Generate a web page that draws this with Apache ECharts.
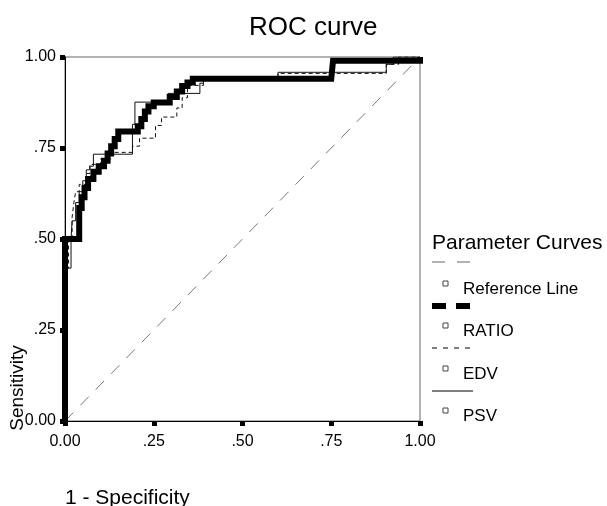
<!DOCTYPE html>
<html>
<head>
<meta charset="utf-8">
<script src="https://cdn.jsdelivr.net/npm/echarts@6/dist/echarts.min.js"></script>
<style>html,body{margin:0;padding:0;background:#fff;}#c{width:607px;height:506px;}</style>
</head>
<body>
<div id="c"></div>
<script>
var titleText = 'ROC curve';
var xAxisName = '1 - Specificity';
var yAxisName = 'Sensitivity';
var legendTitle = 'Parameter Curves';
var seriesNames = ['Reference Line', 'RATIO', 'EDV', 'PSV'];
var xTickLabels = ['0.00', '.25', '.50', '.75', '1.00'];
var yTickLabels = ['0.00', '.25', '.50', '.75', '1.00'];

var referencePoints = [[0, 0], [1, 1]];

var ratioPoints = [
  [0,0],[0,0.5],[0.04,0.5],[0.04,0.585],[0.047,0.585],[0.047,0.615],[0.055,0.615],[0.055,0.64],
  [0.065,0.64],[0.065,0.665],[0.08,0.665],[0.08,0.685],[0.095,0.685],[0.095,0.7],[0.11,0.7],[0.11,0.715],
  [0.12,0.715],[0.12,0.735],[0.13,0.735],[0.13,0.755],[0.14,0.755],[0.14,0.775],[0.15,0.775],[0.15,0.795],
  [0.205,0.795],[0.205,0.81],[0.215,0.81],[0.215,0.83],[0.225,0.83],[0.225,0.85],[0.235,0.85],[0.235,0.865],
  [0.25,0.865],[0.25,0.875],[0.295,0.875],[0.295,0.89],[0.315,0.89],[0.315,0.905],[0.33,0.905],[0.33,0.92],
  [0.345,0.92],[0.345,0.93],[0.36,0.93],[0.36,0.94],[0.75,0.94],[0.755,0.99],[1,0.99],[1,1]
];

var edvPoints = [
  [0,0],[0,0.42],[0.01,0.42],[0.01,0.5],[0.02,0.5],[0.02,0.56],[0.025,0.56],[0.025,0.6],[0.03,0.6],
  [0.03,0.63],[0.04,0.63],[0.04,0.65],[0.06,0.65],[0.06,0.68],[0.07,0.68],[0.07,0.705],[0.1,0.705],
  [0.1,0.72],[0.13,0.72],[0.13,0.738],[0.19,0.738],[0.19,0.755],[0.21,0.755],[0.21,0.777],[0.255,0.777],
  [0.255,0.812],[0.272,0.812],[0.272,0.835],[0.315,0.835],[0.315,0.86],[0.33,0.86],[0.33,0.888],
  [0.345,0.888],[0.345,0.922],[0.39,0.922],[0.39,0.94],[0.6,0.94],[0.6,0.955],[0.905,0.955],[0.905,0.98],
  [0.94,0.98],[0.94,1],[1,1]
];

var psvPoints = [
  [0,0],[0,0.42],[0.017,0.42],[0.017,0.5],[0.02,0.5],[0.02,0.55],[0.03,0.55],[0.03,0.6],[0.04,0.6],
  [0.04,0.63],[0.05,0.63],[0.05,0.66],[0.06,0.66],[0.06,0.69],[0.07,0.69],[0.07,0.7],[0.08,0.7],
  [0.08,0.733],[0.19,0.733],[0.19,0.815],[0.197,0.815],[0.197,0.876],[0.29,0.876],[0.29,0.9],[0.38,0.9],
  [0.38,0.928],[0.39,0.928],[0.39,0.94],[0.6,0.94],[0.6,0.958],[0.905,0.958],[0.905,0.98],[0.925,0.98],
  [0.925,1],[1,1]
];

var FONT = 'Arial, "Liberation Sans", sans-serif';
var chart = echarts.init(document.getElementById('c'), null, {renderer: 'canvas'});

function legendItem(i, sampleY, textY, sampleStyle) {
  return [
    {type: 'line', shape: {x1: 432, y1: sampleY, x2: 473, y2: sampleY}, style: sampleStyle},
    {type: 'rect', shape: {x: 443, y: textY - 8, width: 5, height: 5}, style: {fill: '#fff', stroke: '#444', lineWidth: 1}},
    {type: 'text', x: 463, y: textY, style: {text: seriesNames[i], font: '17px ' + FONT, fill: '#000', verticalAlign: 'middle'}}
  ];
}

var graphics = [].concat(
  [{type: 'text', x: 432, y: 243, style: {text: legendTitle, font: '21px ' + FONT, fill: '#000', verticalAlign: 'middle'}}],
  legendItem(0, 262, 289, {stroke: '#666', lineWidth: 1, lineDash: [13, 12]}),
  legendItem(1, 306, 331, {stroke: '#000', lineWidth: 6, lineDash: [14, 10]}),
  legendItem(2, 348, 374, {stroke: '#000', lineWidth: 1, lineDash: [5, 6]}),
  legendItem(3, 391, 416, {stroke: '#000', lineWidth: 1}),
  [
    {type: 'text', x: 65, y: 498, style: {text: xAxisName, font: '21px ' + FONT, fill: '#000', verticalAlign: 'middle'}},
    {type: 'text', x: 18, y: 388, rotation: Math.PI / 2, style: {text: yAxisName, font: '19px ' + FONT, fill: '#000', align: 'center', verticalAlign: 'middle'}}
  ]
);

var option = {
  backgroundColor: '#fff',
  animation: false,
  title: {text: titleText, left: 249, top: 15, padding: 0,
          textStyle: {fontFamily: FONT, fontSize: 26, fontWeight: 'normal', color: '#000'}},
  grid: {left: 65, right: 187, top: 57, bottom: 85, show: true, borderColor: '#666', borderWidth: 1, backgroundColor: 'transparent'},
  xAxis: {
    type: 'value', min: 0, max: 1, interval: 0.25,
    axisLine: {show: true, lineStyle: {color: '#000', width: 1}},
    axisTick: {show: true, length: 5, lineStyle: {color: '#000', width: 5}},
    splitLine: {show: false},
    axisLabel: {margin: 13, fontFamily: FONT, fontSize: 16, color: '#000',
                formatter: function (v) { return xTickLabels[Math.round(v * 4)]; }}
  },
  yAxis: {
    type: 'value', min: 0, max: 1, interval: 0.25,
    axisLine: {show: true, lineStyle: {color: '#000', width: 1}},
    axisTick: {show: true, length: 5, lineStyle: {color: '#000', width: 5}},
    splitLine: {show: false},
    axisLabel: {margin: 9, fontFamily: FONT, fontSize: 16, color: '#000',
                formatter: function (v) { return yTickLabels[Math.round(v * 4)]; }}
  },
  series: [
    {name: seriesNames[0], type: 'line', data: referencePoints, showSymbol: false, silent: true,
     lineStyle: {color: '#777', width: 1, type: [12, 10]}},
    {name: seriesNames[3], type: 'line', data: psvPoints, showSymbol: false, silent: true,
     lineStyle: {color: '#111', width: 1}},
    {name: seriesNames[2], type: 'line', data: edvPoints, showSymbol: false, silent: true,
     lineStyle: {color: '#111', width: 1, type: [4, 3]}},
    {name: seriesNames[1], type: 'line', data: ratioPoints, showSymbol: false, silent: true,
     lineStyle: {color: '#000', width: 6, join: 'miter'}}
  ],
  graphic: graphics
};
chart.setOption(option);
</script>
</body>
</html>
